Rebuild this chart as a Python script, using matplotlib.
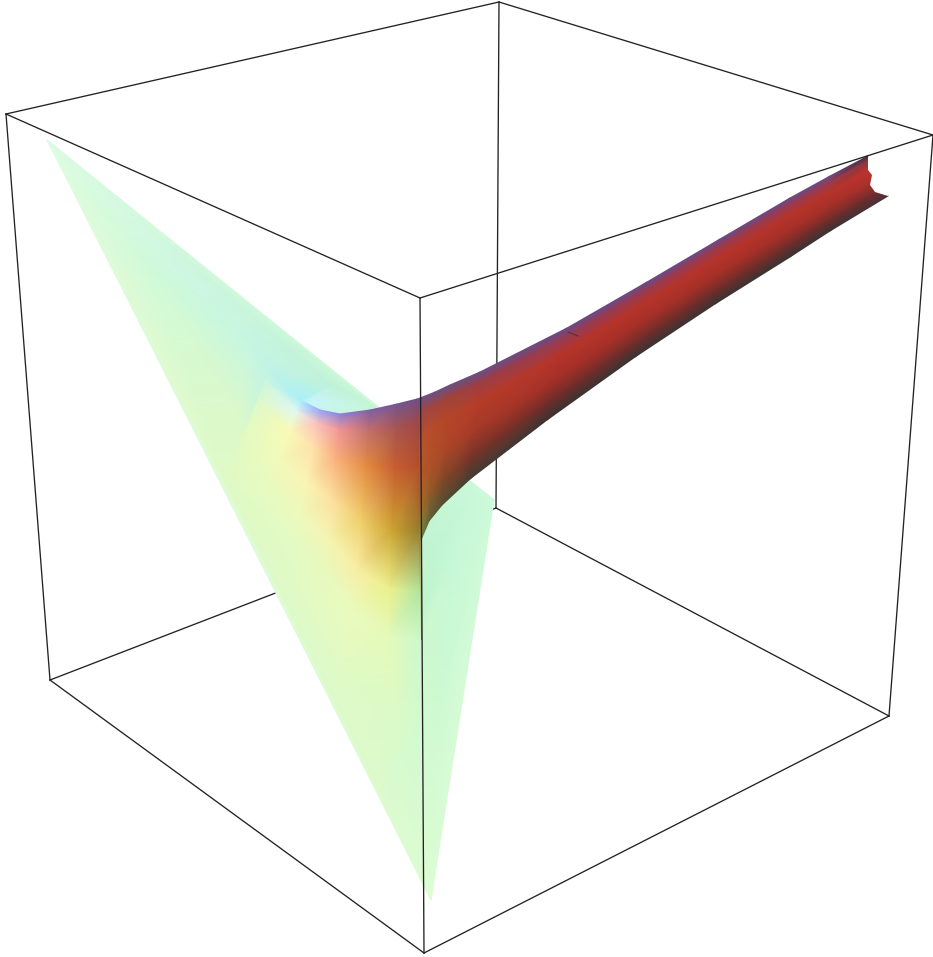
import numpy as np
import matplotlib
matplotlib.use('Agg')
import matplotlib.pyplot as plt
from matplotlib.colors import ListedColormap
from matplotlib.tri import Triangulation

# Box corners, in picture pixels
top_left = (6, 114)
top_back = (499, 2)
top_right = (933, 135)
top_front = (420, 298)
bot_left = (50, 680)
bot_back = (496, 508)
bot_right = (889, 716)
bot_front = (424, 953)

back_edges = [(top_left, top_back), (top_back, top_right), (top_back, bot_back),
              (bot_back, bot_left), (bot_back, bot_right)]
front_edges = [(top_left, top_front), (top_front, top_right), (top_front, bot_front),
               (top_left, bot_left), (bot_left, bot_front), (bot_front, bot_right),
               (bot_right, top_right)]

# Flat sheet: position and colour of sampled points
sheet_x = [47, 494, 431, 150, 250, 270, 300, 312, 330, 375, 240, 225, 262, 295, 325,
           355, 388, 421.5, 290, 340, 400, 380, 425, 430, 450, 470, 440]
sheet_y = [140, 500, 900, 270, 340, 370, 400, 400, 385, 408, 420, 480, 510, 540, 570,
           610, 635, 640, 590, 680, 720, 790, 600, 560, 560, 500, 700]
sheet_rgb = [(222, 252, 226), (205, 250, 218), (222, 252, 212), (208, 250, 216), (198, 246, 226),
             (192, 243, 232), (170, 240, 250), (200, 245, 250), (192, 242, 218), (198, 246, 214),
             (220, 249, 202), (224, 250, 198), (226, 250, 196), (228, 250, 194), (232, 250, 190),
             (235, 250, 188), (228, 250, 185), (205, 248, 205), (224, 250, 198), (224, 250, 198),
             (218, 250, 200), (220, 250, 205), (192, 245, 208), (192, 245, 210), (198, 248, 215),
             (200, 248, 215), (205, 250, 210)]

# Tube: one cross section per station, from its upper edge to its lower edge
tube_top_x = [270, 300, 320, 340, 370, 397, 417, 420, 435, 450, 480, 567, 647, 720, 790, 830, 868]
tube_top_y = [370, 400, 410, 414, 410, 404, 399, 398, 392, 385, 372, 328, 282, 239, 198, 176, 156]
tube_bot_x = [225, 262, 295, 325, 355, 388, 421.5, 421, 429, 442, 470, 547, 635, 715, 790, 830, 888]
tube_bot_y = [480, 510, 540, 570, 610, 635, 640, 540, 521, 505, 479, 420, 357, 304, 257, 231, 196]
tube_frac = [0, 0.1, 0.28, 0.55, 0.8, 1]
far_rgb = [(105, 75, 135), (150, 60, 85), (182, 52, 42), (165, 48, 40), (110, 45, 42), (58, 52, 52)]
end_rgb = [(70, 45, 60), (140, 55, 62), (190, 50, 50), (170, 48, 45), (115, 45, 45), (75, 50, 60)]
tube_rgb = [
    [(192, 243, 232), (205, 246, 220), (222, 249, 202), (226, 250, 195), (225, 250, 195), (224, 250, 198)],
    [(170, 240, 250), (225, 248, 240), (250, 250, 182), (242, 250, 186), (232, 250, 192), (226, 250, 196)],
    [(150, 165, 250), (252, 190, 190), (255, 225, 170), (250, 245, 180), (238, 250, 188), (228, 250, 194)],
    [(140, 130, 215), (240, 150, 150), (250, 175, 125), (252, 225, 160), (245, 245, 180), (232, 250, 190)],
    [(125, 95, 165), (195, 110, 110), (228, 140, 65), (240, 205, 105), (248, 238, 165), (235, 250, 188)],
    [(115, 85, 145), (165, 85, 85), (200, 95, 48), (205, 165, 50), (235, 240, 140), (228, 250, 185)],
    [(110, 80, 135), (160, 72, 72), (180, 78, 45), (150, 125, 45), (175, 230, 160), (205, 248, 205)],
    [(110, 80, 135), (160, 70, 70), (185, 80, 45), (180, 90, 40), (155, 110, 40), (110, 135, 70)],
    [(108, 80, 132), (160, 68, 65), (183, 75, 42), (175, 80, 40), (140, 90, 40), (95, 100, 58)],
    [(105, 80, 130), (160, 65, 60), (180, 70, 40), (170, 70, 40), (125, 70, 40), (85, 80, 50)],
    [(105, 78, 135), (155, 62, 72), (182, 60, 40), (165, 58, 40), (115, 52, 40), (68, 62, 52)],
] + [far_rgb] * 5 + [end_rgb]

# Broken far end of the tube
notch_x = [868, 868, 872, 870, 875, 888, 895]
notch_y = [156, 170, 175, 185, 192, 196, 170]

# Small dark scar on the tube
scar_x = [568, 578]
scar_y = [332, 336]

edge_color = '#222222'


def draw_edges(ax, edges, z):
    for a, b in edges:
        ax.plot([a[0], b[0]], [a[1], b[1]], color=edge_color, lw=0.95, zorder=z)


def draw_colored(ax, tri, rgb, z):
    # one colour per vertex, the gouraud shading blends them
    n = len(rgb)
    cmap = ListedColormap(np.array(rgb) / 255)
    ax.tripcolor(tri, np.arange(n), shading='gouraud', cmap=cmap,
                 vmin=0, vmax=n - 1, zorder=z)


fig = plt.figure(figsize=(9.33, 9.57), dpi=100)
ax = fig.add_axes([0, 0, 1, 1])
ax.set_xlim(0, 933)
ax.set_ylim(957, 0)
ax.axis('off')

draw_edges(ax, back_edges, 1)

# Sheet
draw_colored(ax, Triangulation(sheet_x, sheet_y), sheet_rgb, 2)

# Tube mesh
frac = np.array(tube_frac)
mesh_x = np.outer(tube_top_x, 1 - frac) + np.outer(tube_bot_x, frac)
mesh_y = np.outer(tube_top_y, 1 - frac) + np.outer(tube_bot_y, frac)
n_st, n_col = mesh_x.shape
triangles = []
for i in range(n_st - 1):
    for j in range(n_col - 1):
        p = i * n_col + j
        triangles.append([p, p + 1, p + n_col])
        triangles.append([p + 1, p + n_col + 1, p + n_col])
tube_tri = Triangulation(mesh_x.ravel(), mesh_y.ravel(), triangles)
draw_colored(ax, tube_tri, np.array(tube_rgb).reshape(-1, 3), 3)

ax.plot(scar_x, scar_y, color='#5a3030', lw=0.8, zorder=3.5)
ax.fill(notch_x, notch_y, color='white', lw=0, zorder=4)

draw_edges(ax, front_edges, 5)

fig.savefig('out.png', dpi=100)
